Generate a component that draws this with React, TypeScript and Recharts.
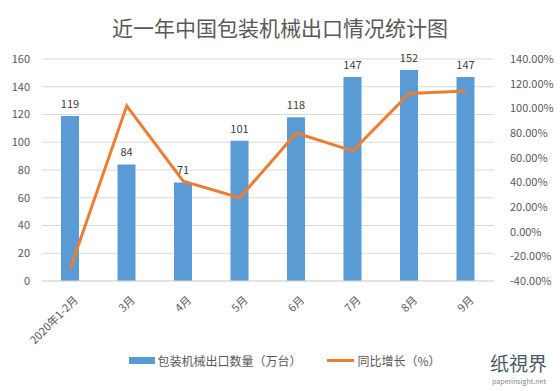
import {
  Bar,
  CartesianGrid,
  ComposedChart,
  LabelList,
  Legend,
  Line,
  XAxis,
  YAxis,
} from "recharts";

const months = ["2020年1-2月", "3月", "4月", "5月", "6月", "7月", "8月", "9月"];
const exportQty = [119, 84, 71, 101, 118, 147, 152, 147];
const yoyGrowth = [-30, 102, 41, 27.5, 80, 65.5, 112, 114];
const leftTicks = [0, 20, 40, 60, 80, 100, 120, 140, 160];
const rightTicks = [-40, -20, 0, 20, 40, 60, 80, 100, 120, 140];

const QTY_NAME = "包装机械出口数量（万台）";
const YOY_NAME = "同比增长（%）";

const data = months.map((m, i) => ({
  month: m,
  qty: exportQty[i],
  yoy: yoyGrowth[i],
}));

const FONT = '"Noto Sans CJK SC", "Noto Sans", sans-serif';
const TEXT = "#595959";

function MonthTick(props: any) {
  const { x, y, payload } = props;
  return (
    <g transform={`translate(${x + 3},${y + 6})`}>
      <text
        transform="rotate(-45)"
        textAnchor="end"
        dy={8}
        fontSize={11}
        fill={TEXT}
        fontFamily={FONT}
      >
        {payload.value}
      </text>
    </g>
  );
}

function LegendBox() {
  return (
    <div
      style={{
        display: "flex",
        justifyContent: "center",
        gap: 26,
        fontSize: 12,
        color: TEXT,
        fontFamily: FONT,
        paddingLeft: 10,
      }}
    >
      <span style={{ display: "flex", alignItems: "center" }}>
        <span style={{ width: 26, height: 7, background: "#5B9BD5", marginRight: 2 }} />
        {QTY_NAME}
      </span>
      <span style={{ display: "flex", alignItems: "center" }}>
        <span style={{ width: 27, height: 3, background: "#ED7D31", marginRight: 3 }} />
        {YOY_NAME}
      </span>
    </div>
  );
}

export default function App() {
  return (
    <div
      style={{
        position: "absolute",
        left: 0,
        top: 0,
        width: 560,
        height: 391,
        background: "#fff",
        fontFamily: FONT,
      }}
    >
      <div
        style={{
          position: "absolute",
          top: 12,
          width: 560,
          textAlign: "center",
          fontSize: 21,
          color: TEXT,
        }}
      >
        近一年中国包装机械出口情况统计图
      </div>
      <ComposedChart
        width={560}
        height={391}
        data={data}
        margin={{ top: 59, right: 8, left: 8, bottom: 33 }}
        barSize={18}
      >
        <CartesianGrid yAxisId="left" vertical={false} stroke="#d9d9d9" />
        <XAxis
          dataKey="month"
          tick={<MonthTick />}
          tickLine={false}
          axisLine={{ stroke: "#d9d9d9" }}
          interval={0}
          height={60}
        />
        <YAxis
          yAxisId="left"
          domain={[0, 160]}
          ticks={leftTicks}
          width={34}
          tickLine={false}
          axisLine={false}
          tick={{ fontSize: 11, fill: TEXT }}
          tickMargin={6}
          interval={0}
        />
        <YAxis
          yAxisId="right"
          orientation="right"
          domain={[-40, 140]}
          ticks={rightTicks}
          width={58}
          tickLine={false}
          axisLine={false}
          tick={{ fontSize: 11, fill: TEXT, textAnchor: "start" }}
          tickMargin={10}
          tickFormatter={(v: number) => `${v.toFixed(2)}%`}
          interval={0}
        />
        <Legend
          verticalAlign="bottom"
          content={<LegendBox />}
          wrapperStyle={{ top: 352, left: 0, width: 560 }}
        />
        <Bar
          yAxisId="left"
          dataKey="qty"
          name={QTY_NAME}
          fill="#5B9BD5"
          isAnimationActive={false}
        >
          <LabelList dataKey="qty" position="top" fontSize={11} fill="#404040" offset={8} />
        </Bar>
        <Line
          yAxisId="right"
          dataKey="yoy"
          name={YOY_NAME}
          type="linear"
          stroke="#ED7D31"
          strokeWidth={3}
          dot={false}
          activeDot={false}
          isAnimationActive={false}
        />
      </ComposedChart>
      <div
        style={{
          position: "absolute",
          left: 490,
          top: 352,
          color: "#4a5a6a",
          fontSize: 19,
          lineHeight: "22px",
        }}
      >
        纸視界
      </div>
      <div
        style={{
          position: "absolute",
          left: 492,
          top: 377,
          color: "#888",
          fontSize: 7,
          lineHeight: "8px",
        }}
      >
        paperinsight.net
      </div>
    </div>
  );
}
